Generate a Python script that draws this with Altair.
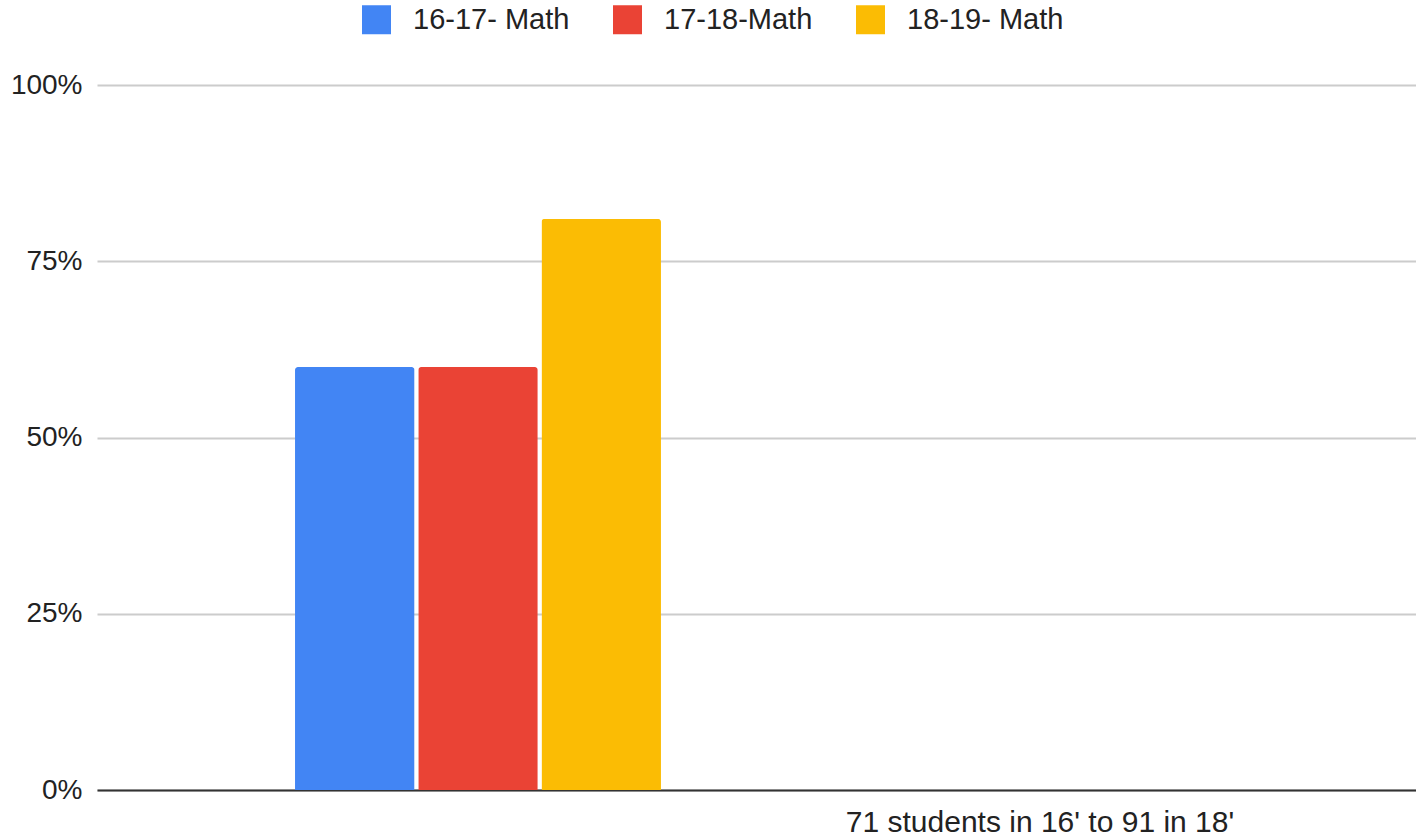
import altair as alt
import pandas as pd

# Share of students meeting the math standard, by school year
series = ["16-17- Math", "17-18-Math", "18-19- Math"]
values = [0.60, 0.60, 0.81]
colors = ["#4285F4", "#EA4335", "#FBBC04"]
categories = ["", "71 students in 16' to 91 in 18'"]

df = pd.DataFrame({
    "group": [categories[0]] * len(series),
    "series": series,
    "value": values,
})

FONT = "Liberation Sans"

bars = alt.Chart(df).mark_bar(
    cornerRadiusTopLeft=3, cornerRadiusTopRight=3
).encode(
    x=alt.X(
        "group:N",
        sort=categories,
        scale=alt.Scale(domain=categories, paddingInner=0.343, paddingOuter=0.3555),
        axis=alt.Axis(
            title=None, labelAngle=0, ticks=False, domain=True,
            domainColor="#333333", domainWidth=2,
            labelFontSize=30, labelColor="#222222", labelFont=FONT,
            labelPadding=17, labelLimit=0, grid=False,
        ),
    ),
    xOffset=alt.XOffset(
        "series:N", sort=series,
        scale=alt.Scale(paddingInner=0.03, paddingOuter=0),
    ),
    y=alt.Y(
        "value:Q",
        scale=alt.Scale(domain=[0, 1], nice=False),
        axis=alt.Axis(
            title=None, format=".0%", values=[0, 0.25, 0.5, 0.75, 1.0],
            domain=False, ticks=False, labelPadding=15,
            labelFontSize=28, labelColor="#222222", labelFont=FONT,
            gridColor="#cccccc", gridWidth=2,
        ),
    ),
    color=alt.Color(
        "series:N", sort=series,
        scale=alt.Scale(domain=series, range=colors),
        legend=alt.Legend(
            title=None, orient="none", direction="horizontal",
            legendX=265, legendY=-80,
            symbolType="square", symbolSize=841, symbolStrokeWidth=0,
            symbolOpacity=1, labelFontSize=29, labelFont=FONT,
            labelColor="#222222", labelOffset=22, columnPadding=43,
        ),
    ),
)

chart = bars.properties(
    width=1319,
    height=705,
    autosize=alt.AutoSizeParams(type="none"),
    padding={"left": 97, "top": 85, "right": 0, "bottom": 47},
    background="white",
).configure_view(stroke=None).configure_axisX(labelOffset=5)

chart.save("out.html", embed_options={"renderer": "svg", "actions": False})
